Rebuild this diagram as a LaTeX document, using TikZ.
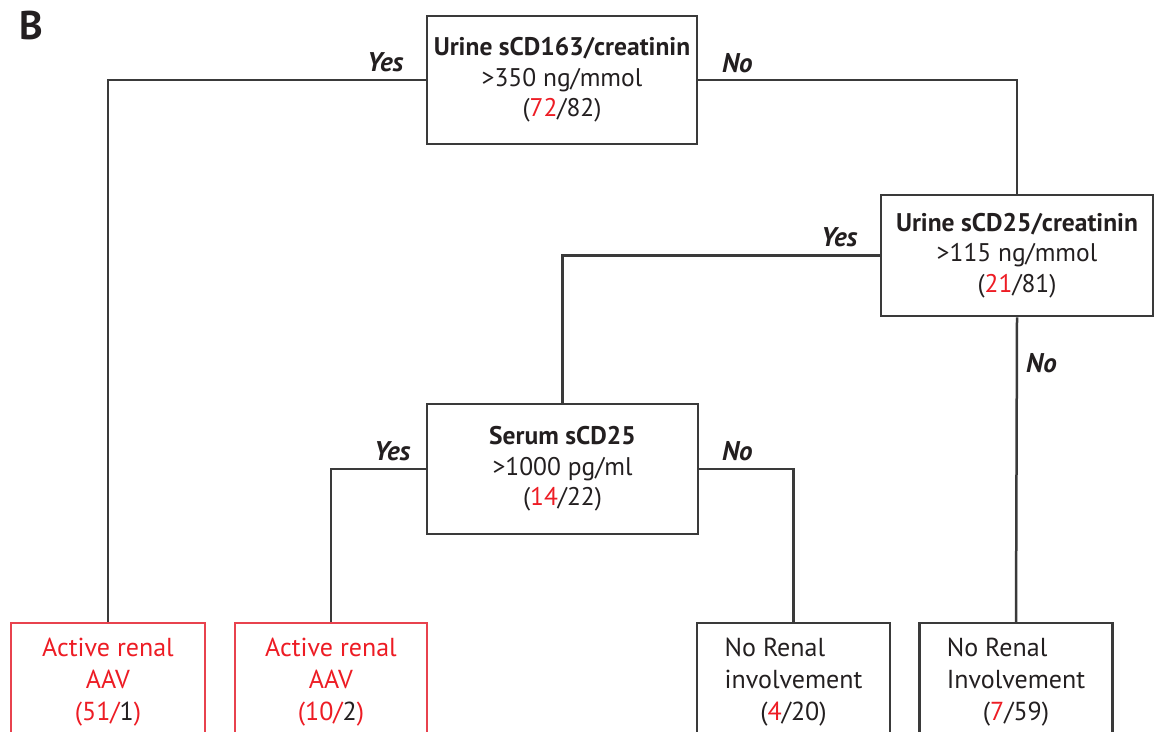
\documentclass[tikz,border=0pt]{standalone}
\usepackage{fontspec}
\setmainfont{PT Sans}
\definecolor{ink}{HTML}{231F20}
\definecolor{lred}{HTML}{ED1C24}
\definecolor{edgec}{HTML}{3A3A3A}
\definecolor{redbox}{HTML}{E8424E}
\newcommand\leftas[2]{\setbox0\hbox{#1}\hbox to \wd0{#2\hfil}}
\begin{document}
\begin{tikzpicture}[x=1pt,y=-1pt,
  box/.style={draw=edgec, line width=2.5pt, align=center, text=ink, inner sep=0pt,
    font=\fontsize{25.5}{30.5}\selectfont},
  leaf/.style={box, minimum width=193pt, minimum height=118pt, font=\fontsize{26}{32}\selectfont},
  redleaf/.style={leaf, draw=redbox, text=lred},
  lab/.style={font=\fontsize{27}{30}\selectfont\bfseries\itshape, text=ink, anchor=base west, inner sep=0pt},
  conn/.style={draw=edgec, line width=2.5pt}]
\useasboundingbox (0,0) rectangle (1155,731);
\clip (0,0) rectangle (1155,731);
\node[font=\fontsize{40}{40}\selectfont\bfseries, text=ink, anchor=base west, inner sep=0pt] (lbl) at (19,39) {B};
\node[box, minimum width=270pt, minimum height=128pt] (b1) at (562,80)
  {{\bfseries Urine sCD163/creatinin}\\>350 ng/mmol\\({\color{lred}72}/82)};
\node[box, minimum width=272pt, minimum height=121pt] (b2) at (1017,255.5)
  {{\bfseries Urine sCD25/creatinin}\\>115 ng/mmol\\({\color{lred}21}/81)};
\node[box, minimum width=271pt, minimum height=130pt] (b3) at (562.5,469)
  {{\bfseries Serum sCD25}\\>1000 pg/ml\\({\color{lred}14}/22)};
\node[redleaf, minimum width=194pt] (b4) at (108,682) {Active renal\\AAV\\(51/{\color{ink}1})};
\node[redleaf, minimum width=192pt] (b5) at (331,682) {Active renal\\AAV\\(10/{\color{ink}2})};
\node[leaf] (b6) at (793.5,682) {\leftas{involvement}{No Renal}\\involvement\\({\color{lred}4}/20)};
\node[leaf] (b7) at (1016,682) {\leftas{Involvement}{No Renal}\\Involvement\\({\color{lred}7}/59)};
\draw[conn] (b1.west) -| (b4.north);
\draw[conn] (b1.east) -| (b2.north);
\draw[conn] (b2.west) -| (b3.north);
\draw[conn] (b2.south) -- (b7.north);
\draw[conn] (b3.west) -| (b5.north);
\draw[conn] (b3.east) -| (b6.north);
\node[lab] (y1) at (367,71) {Yes};
\node[lab] (n1) at (722,72) {No};
\node[lab] (y2) at (821,246) {Yes};
\node[lab] (n2) at (1026,372) {No};
\node[lab] (y3) at (374,460) {Yes};
\node[lab] (n3) at (722,460) {No};
\end{tikzpicture}
\end{document}
